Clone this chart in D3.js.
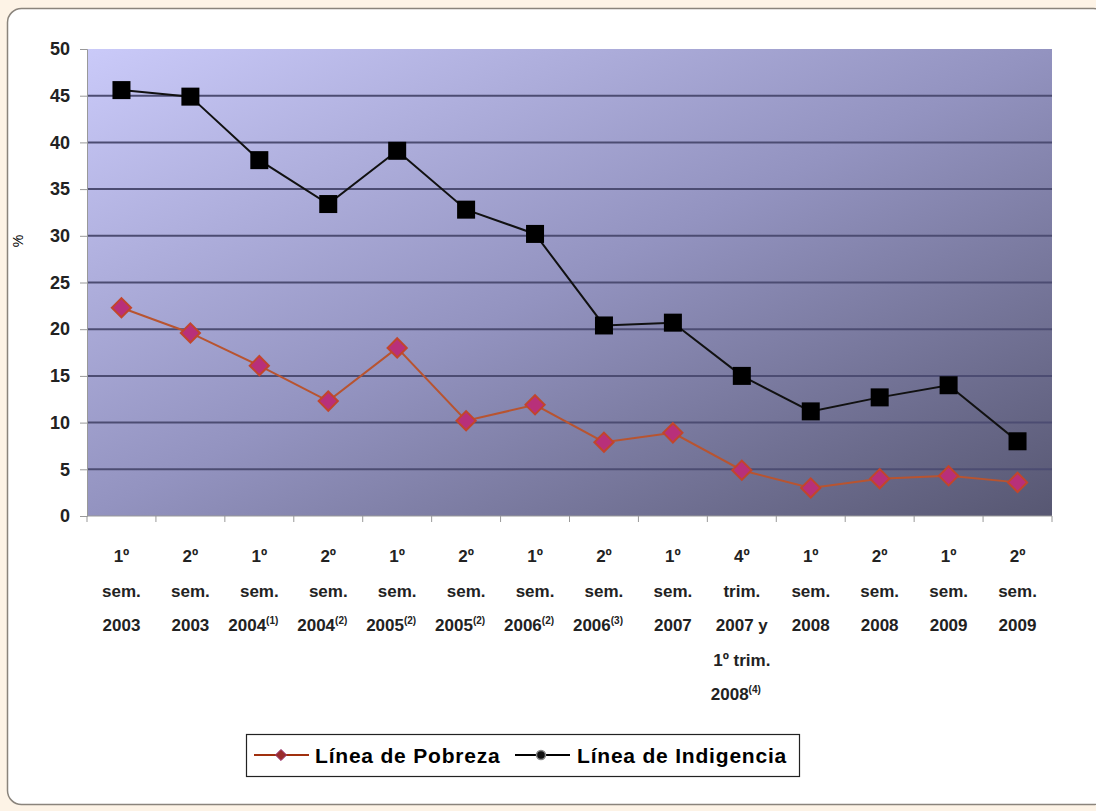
<!DOCTYPE html>
<html lang="es">
<head>
    <meta charset="UTF-8">
    <title>Línea de Pobreza e Indigencia</title>
    <style>
        body { margin: 0; background: #fdf3e6; }
        .tick text { font-family: "Liberation Sans", Arial, sans-serif; font-size: 18px; font-weight: bold; fill: #222; }
        .xlab { font-family: "Liberation Sans", Arial, sans-serif; font-size: 17px; font-weight: bold; fill: #222; }
        .legend text { font-family: "Liberation Sans", Arial, sans-serif; font-size: 21px; font-weight: bold; fill: #000; letter-spacing: 0.8px; }
    </style>
</head>
<body>
    <svg id="chart" width="1096" height="811"></svg>

    <script src="https://d3js.org/d3.v7.min.js"></script>
    <script>
        // Periods (one line per row, ^ marks the footnote superscript)
        const categories = [
            ["1º", "sem.", "2003"],
            ["2º", "sem.", "2003"],
            ["1º", "sem.", "2004^(1)"],
            ["2º", "sem.", "2004^(2)"],
            ["1º", "sem.", "2005^(2)"],
            ["2º", "sem.", "2005^(2)"],
            ["1º", "sem.", "2006^(2)"],
            ["2º", "sem.", "2006^(3)"],
            ["1º", "sem.", "2007"],
            ["4º", "trim.", "2007 y", "1º trim.", "2008^(4)"],
            ["1º", "sem.", "2008"],
            ["2º", "sem.", "2008"],
            ["1º", "sem.", "2009"],
            ["2º", "sem.", "2009"]
        ];
        const pobreza = [22.3, 19.6, 16.1, 12.3, 18.0, 10.2, 11.9, 7.9, 8.9, 4.9, 3.0, 4.0, 4.3, 3.6];
        const indigencia = [45.6, 44.9, 38.1, 33.4, 39.1, 32.8, 30.2, 20.4, 20.7, 15.0, 11.2, 12.7, 14.0, 8.0];
        const yTicks = [0, 5, 10, 15, 20, 25, 30, 35, 40, 45, 50];
        const seriesNames = ["Línea de Pobreza", "Línea de Indigencia"];

        const svg = d3.select("#chart");

        // outer white frame
        svg.append("rect")
            .attr("x", 7.5).attr("y", 8.5)
            .attr("width", 1100).attr("height", 796)
            .attr("rx", 14)
            .attr("fill", "#fff")
            .attr("stroke", "#8a847c")
            .attr("stroke-width", 1.5);

        const plot = { left: 87, right: 1052, top: 49, bottom: 516 };

        const idx = categories.map((_, i) => i);
        const x = d3.scaleBand().domain(idx).range([plot.left, plot.right]);
        const y = d3.scaleLinear().domain([0, 50]).range([plot.bottom, plot.top]);

        // background gradient
        const defs = svg.append("defs");
        const grad = defs.append("linearGradient")
            .attr("id", "bg")
            .attr("x1", 0).attr("y1", 0).attr("x2", 1).attr("y2", 1);
        grad.append("stop").attr("offset", "0%").attr("stop-color", "#cacaf9");
        grad.append("stop").attr("offset", "50%").attr("stop-color", "#9393c0");
        grad.append("stop").attr("offset", "100%").attr("stop-color", "#575772");

        svg.append("rect")
            .attr("x", plot.left).attr("y", plot.top)
            .attr("width", plot.right - plot.left)
            .attr("height", plot.bottom - plot.top)
            .attr("fill", "url(#bg)");

        // gridlines
        svg.append("g")
            .selectAll("line")
            .data(yTicks.filter(d => d > 0 && d < 50))
            .join("line")
            .attr("x1", plot.left).attr("x2", plot.right)
            .attr("y1", d => y(d)).attr("y2", d => y(d))
            .attr("stroke", "#4c4c72")
            .attr("stroke-width", 2);

        // y axis
        const yAxis = svg.append("g")
            .attr("transform", "translate(" + plot.left + ",0)")
            .call(d3.axisLeft(y).tickValues(yTicks).tickSize(7).tickPadding(10));
        yAxis.select(".domain").attr("stroke", "#999");
        yAxis.selectAll(".tick line").attr("stroke", "#999");

        svg.append("text")
            .attr("transform", "translate(23,241) rotate(-90)")
            .attr("text-anchor", "middle")
            .style("font-family", "Liberation Sans, Arial, sans-serif")
            .style("font-size", "14px")
            .text("%");

        // x axis line + ticks at band boundaries
        svg.append("line")
            .attr("x1", plot.left).attr("x2", plot.right)
            .attr("y1", plot.bottom).attr("y2", plot.bottom)
            .attr("stroke", "#999");
        svg.append("g")
            .selectAll("line")
            .data(idx.concat([categories.length]))
            .join("line")
            .attr("x1", d => d < categories.length ? x(d) : plot.right)
            .attr("x2", d => d < categories.length ? x(d) : plot.right)
            .attr("y1", plot.bottom).attr("y2", plot.bottom + 6)
            .attr("stroke", "#999");

        // category labels
        const labels = svg.append("g").selectAll("text")
            .data(categories)
            .join("text")
            .attr("class", "xlab")
            .attr("text-anchor", "middle");
        labels.each(function(lines, i) {
            const t = d3.select(this);
            lines.forEach((line, j) => {
                const parts = line.split("^");
                t.append("tspan")
                    .attr("x", x(i) + x.bandwidth() / 2 + (parts[1] ? -6 : 0))
                    .attr("y", 562 + j * 34.5)
                    .text(parts[0]);
                if (parts[1]) {
                    t.append("tspan")
                        .attr("dy", -7)
                        .style("font-size", "10px")
                        .text(parts[1]);
                }
            });
        });

        const cx = i => x(i) + x.bandwidth() / 2;
        const line = d3.line().x((d, i) => cx(i)).y(d => y(d));

        // Pobreza
        svg.append("path")
            .datum(pobreza)
            .attr("d", line)
            .attr("fill", "none")
            .attr("stroke", "#b85430")
            .attr("stroke-width", 2);
        svg.append("g").selectAll("path")
            .data(pobreza)
            .join("path")
            .attr("d", d3.symbol(d3.symbolDiamond2, 235))
            .attr("transform", (d, i) => "translate(" + cx(i) + "," + y(d) + ")")
            .attr("fill", "#b8307a")
            .attr("stroke", "#c2452c")
            .attr("stroke-width", 2);

        // Indigencia
        svg.append("path")
            .datum(indigencia)
            .attr("d", line)
            .attr("fill", "none")
            .attr("stroke", "#111")
            .attr("stroke-width", 2);
        svg.append("g").selectAll("rect")
            .data(indigencia)
            .join("rect")
            .attr("x", (d, i) => cx(i) - 9)
            .attr("y", d => y(d) - 9)
            .attr("width", 18).attr("height", 18)
            .attr("fill", "#000");

        // legend
        const legend = svg.append("g").attr("class", "legend");
        legend.append("rect")
            .attr("x", 246.5).attr("y", 734.5)
            .attr("width", 553).attr("height", 42)
            .attr("fill", "#fff")
            .attr("stroke", "#222")
            .attr("stroke-width", 1.2);

        legend.append("line")
            .attr("x1", 254).attr("x2", 309).attr("y1", 755).attr("y2", 755)
            .attr("stroke", "#a0300e").attr("stroke-width", 2);
        legend.append("path")
            .attr("d", d3.symbol(d3.symbolDiamond2, 80))
            .attr("transform", "translate(281,755)")
            .attr("fill", "#9a2c2c").attr("stroke", "#9c3a78").attr("stroke-width", 1);
        legend.append("text").attr("x", 315).attr("y", 763).text(seriesNames[0]);

        legend.append("line")
            .attr("x1", 515).attr("x2", 570).attr("y1", 755).attr("y2", 755)
            .attr("stroke", "#000").attr("stroke-width", 2);
        legend.append("circle")
            .attr("cx", 541).attr("cy", 755).attr("r", 4.5)
            .attr("fill", "#111").attr("stroke", "#888").attr("stroke-width", 1.5);
        legend.append("text").attr("x", 577).attr("y", 763).text(seriesNames[1]);
    </script>
</body>
</html>
